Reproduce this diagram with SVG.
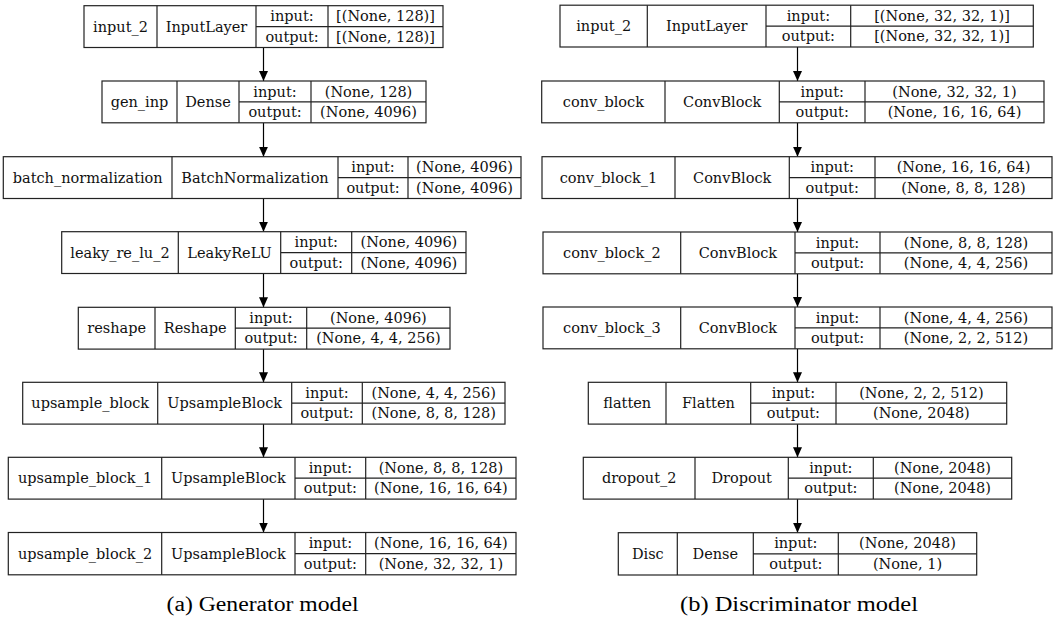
<svg xmlns="http://www.w3.org/2000/svg" width="1058" height="618" viewBox="0 0 1058 618">
<defs>
<marker id="ah" markerUnits="userSpaceOnUse" markerWidth="10" markerHeight="9" refX="10" refY="4.5" orient="auto">
<path d="M0,0 L10,4.5 L0,9 z" fill="#000"/>
</marker>
<style>
.b{fill:#fff;stroke:#222;stroke-width:1.2}
.l{stroke:#222;stroke-width:1.2}
text{font-family:"DejaVu Serif",serif;font-size:14.5px;fill:#111;text-anchor:middle}
text.cap{font-family:"Liberation Serif","Times New Roman",serif;font-size:20px;fill:#000}
.c{stroke:#000;stroke-width:1.2;fill:none;marker-end:url(#ah)}
</style>
</defs>
<rect width="1058" height="618" fill="#fff"/>
<g id="connectors">
<line class="c" x1="263.5" y1="47.5" x2="263.5" y2="81"/>
<line class="c" x1="263.5" y1="122.8" x2="263.5" y2="156.7"/>
<line class="c" x1="263.5" y1="198.5" x2="263.5" y2="231.7"/>
<line class="c" x1="263.5" y1="273.5" x2="263.5" y2="307.3"/>
<line class="c" x1="263.5" y1="349.1" x2="263.5" y2="382.3"/>
<line class="c" x1="263.5" y1="424.1" x2="263.5" y2="457.3"/>
<line class="c" x1="263.5" y1="499.1" x2="263.5" y2="532.5"/>
<line class="c" x1="797.5" y1="47" x2="797.5" y2="81"/>
<line class="c" x1="797.5" y1="122.8" x2="797.5" y2="156.7"/>
<line class="c" x1="797.5" y1="198.5" x2="797.5" y2="232"/>
<line class="c" x1="797.5" y1="273.8" x2="797.5" y2="307"/>
<line class="c" x1="797.5" y1="348.8" x2="797.5" y2="382.3"/>
<line class="c" x1="797.5" y1="424.1" x2="797.5" y2="457.3"/>
<line class="c" x1="797.5" y1="499.1" x2="797.5" y2="532.7"/>
</g>
<g id="input_2_gen">
<rect class="b" x="84" y="5.7" width="359" height="41.8"/>
<path class="l" d="M157,5.7V47.5M256,5.7V47.5M328,5.7V47.5M256,26.6H443"/>
<text x="120.5" y="31.6">input_2</text><text x="206.5" y="31.6">InputLayer</text>
<text x="292" y="21.2">input:</text><text x="385.5" y="21.2">[(None, 128)]</text>
<text x="292" y="41.7">output:</text><text x="385.5" y="41.7">[(None, 128)]</text>
</g>
<g id="gen_inp">
<rect class="b" x="102" y="81" width="324" height="41.8"/>
<path class="l" d="M177,81V122.8M239,81V122.8M311,81V122.8M239,101.9H426"/>
<text x="139.5" y="107">gen_inp</text><text x="208" y="107">Dense</text>
<text x="275" y="96.5">input:</text><text x="368.5" y="96.5">(None, 128)</text>
<text x="275" y="117">output:</text><text x="368.5" y="117">(None, 4096)</text>
</g>
<g id="batch_normalization">
<rect class="b" x="3.3" y="156.7" width="517.7" height="41.8"/>
<path class="l" d="M172,156.7V198.5M338,156.7V198.5M408,156.7V198.5M338,177.6H521"/>
<text x="87.7" y="182.7">batch_normalization</text><text x="255" y="182.7">BatchNormalization</text>
<text x="373" y="172.2">input:</text><text x="464.5" y="172.2">(None, 4096)</text>
<text x="373" y="192.7">output:</text><text x="464.5" y="192.7">(None, 4096)</text>
</g>
<g id="leaky_re_lu_2">
<rect class="b" x="61.7" y="231.7" width="404.3" height="41.8"/>
<path class="l" d="M178.3,231.7V273.5M280.7,231.7V273.5M351.7,231.7V273.5M280.7,252.6H466"/>
<text x="120" y="257.7">leaky_re_lu_2</text><text x="229.5" y="257.7">LeakyReLU</text>
<text x="316.2" y="247.2">input:</text><text x="408.9" y="247.2">(None, 4096)</text>
<text x="316.2" y="267.7">output:</text><text x="408.9" y="267.7">(None, 4096)</text>
</g>
<g id="reshape">
<rect class="b" x="78.3" y="307.3" width="371.7" height="41.8"/>
<path class="l" d="M155,307.3V349.1M235.3,307.3V349.1M306.7,307.3V349.1M235.3,328.2H450"/>
<text x="116.7" y="333.3">reshape</text><text x="195.2" y="333.3">Reshape</text>
<text x="271" y="322.8">input:</text><text x="378.4" y="322.8">(None, 4096)</text>
<text x="271" y="343.3">output:</text><text x="378.4" y="343.3">(None, 4, 4, 256)</text>
</g>
<g id="upsample_block">
<rect class="b" x="22.7" y="382.3" width="482.3" height="41.8"/>
<path class="l" d="M157.7,382.3V424.1M291.7,382.3V424.1M362.3,382.3V424.1M291.7,403.2H505"/>
<text x="90.2" y="408.3">upsample_block</text><text x="224.7" y="408.3">UpsampleBlock</text>
<text x="327" y="397.8">input:</text><text x="433.7" y="397.8">(None, 4, 4, 256)</text>
<text x="327" y="418.3">output:</text><text x="433.7" y="418.3">(None, 8, 8, 128)</text>
</g>
<g id="upsample_block_1">
<rect class="b" x="8.3" y="457.3" width="507.7" height="41.8"/>
<path class="l" d="M161.7,457.3V499.1M295,457.3V499.1M365.7,457.3V499.1M295,478.2H516"/>
<text x="85" y="483.3">upsample_block_1</text><text x="228.4" y="483.3">UpsampleBlock</text>
<text x="330.4" y="472.8">input:</text><text x="440.9" y="472.8">(None, 8, 8, 128)</text>
<text x="330.4" y="493.3">output:</text><text x="440.9" y="493.3">(None, 16, 16, 64)</text>
</g>
<g id="upsample_block_2">
<rect class="b" x="8.3" y="532.5" width="507.7" height="42.3"/>
<path class="l" d="M161.7,532.5V574.8M295,532.5V574.8M365.7,532.5V574.8M295,553.6H516"/>
<text x="85" y="558.7">upsample_block_2</text><text x="228.4" y="558.7">UpsampleBlock</text>
<text x="330.4" y="548.2">input:</text><text x="440.9" y="548.2">(None, 16, 16, 64)</text>
<text x="330.4" y="568.9">output:</text><text x="440.9" y="568.9">(None, 32, 32, 1)</text>
</g>
<g id="input_2_disc">
<rect class="b" x="560" y="5.2" width="473.3" height="41.8"/>
<path class="l" d="M647.3,5.2V47M766,5.2V47M850.7,5.2V47M766,26.1H1033.3"/>
<text x="603.7" y="31.1">input_2</text><text x="706.7" y="31.1">InputLayer</text>
<text x="808.4" y="20.7">input:</text><text x="942" y="20.7">[(None, 32, 32, 1)]</text>
<text x="808.4" y="41.2">output:</text><text x="942" y="41.2">[(None, 32, 32, 1)]</text>
</g>
<g id="conv_block">
<rect class="b" x="541.7" y="81" width="502.3" height="41.8"/>
<path class="l" d="M665,81V122.8M779.3,81V122.8M865,81V122.8M779.3,101.9H1044"/>
<text x="603.4" y="107">conv_block</text><text x="722.2" y="107">ConvBlock</text>
<text x="822.2" y="96.5">input:</text><text x="954.5" y="96.5">(None, 32, 32, 1)</text>
<text x="822.2" y="117">output:</text><text x="954.5" y="117">(None, 16, 16, 64)</text>
</g>
<g id="conv_block_1">
<rect class="b" x="542" y="156.7" width="510" height="41.8"/>
<path class="l" d="M675,156.7V198.5M789.3,156.7V198.5M875,156.7V198.5M789.3,177.6H1052"/>
<text x="608.5" y="182.7">conv_block_1</text><text x="732.2" y="182.7">ConvBlock</text>
<text x="832.2" y="172.2">input:</text><text x="963.5" y="172.2">(None, 16, 16, 64)</text>
<text x="832.2" y="192.7">output:</text><text x="963.5" y="192.7">(None, 8, 8, 128)</text>
</g>
<g id="conv_block_2">
<rect class="b" x="543" y="232" width="509" height="41.8"/>
<path class="l" d="M680.7,232V273.8M795,232V273.8M880,232V273.8M795,252.9H1052"/>
<text x="611.9" y="258">conv_block_2</text><text x="737.9" y="258">ConvBlock</text>
<text x="837.5" y="247.5">input:</text><text x="966" y="247.5">(None, 8, 8, 128)</text>
<text x="837.5" y="268">output:</text><text x="966" y="268">(None, 4, 4, 256)</text>
</g>
<g id="conv_block_3">
<rect class="b" x="543" y="307" width="509" height="41.8"/>
<path class="l" d="M680.7,307V348.8M795,307V348.8M880,307V348.8M795,327.9H1052"/>
<text x="611.9" y="333">conv_block_3</text><text x="737.9" y="333">ConvBlock</text>
<text x="837.5" y="322.5">input:</text><text x="966" y="322.5">(None, 4, 4, 256)</text>
<text x="837.5" y="343">output:</text><text x="966" y="343">(None, 2, 2, 512)</text>
</g>
<g id="flatten">
<rect class="b" x="588.3" y="382.3" width="418.4" height="41.8"/>
<path class="l" d="M666,382.3V424.1M750.7,382.3V424.1M836,382.3V424.1M750.7,403.2H1006.7"/>
<text x="627.2" y="408.3">flatten</text><text x="708.4" y="408.3">Flatten</text>
<text x="793.4" y="397.8">input:</text><text x="921.4" y="397.8">(None, 2, 2, 512)</text>
<text x="793.4" y="418.3">output:</text><text x="921.4" y="418.3">(None, 2048)</text>
</g>
<g id="dropout_2">
<rect class="b" x="583.3" y="457.3" width="428.4" height="41.8"/>
<path class="l" d="M695,457.3V499.1M788.3,457.3V499.1M873.3,457.3V499.1M788.3,478.2H1011.7"/>
<text x="639.2" y="483.3">dropout_2</text><text x="741.7" y="483.3">Dropout</text>
<text x="830.8" y="472.8">input:</text><text x="942.5" y="472.8">(None, 2048)</text>
<text x="830.8" y="493.3">output:</text><text x="942.5" y="493.3">(None, 2048)</text>
</g>
<g id="Disc">
<rect class="b" x="618.3" y="532.7" width="358.4" height="42.3"/>
<path class="l" d="M677.3,532.7V575M753.3,532.7V575M838.3,532.7V575M753.3,553.8H976.7"/>
<text x="647.8" y="558.9">Disc</text><text x="715.3" y="558.9">Dense</text>
<text x="795.8" y="548.4">input:</text><text x="907.5" y="548.4">(None, 2048)</text>
<text x="795.8" y="569.1">output:</text><text x="907.5" y="569.1">(None, 1)</text>
</g>
<g id="captions">
<text class="cap" x="262.5" y="611" textLength="192" lengthAdjust="spacingAndGlyphs">(a) Generator model</text>
<text class="cap" x="799" y="611" textLength="238" lengthAdjust="spacingAndGlyphs">(b) Discriminator model</text>
</g>
</svg>
